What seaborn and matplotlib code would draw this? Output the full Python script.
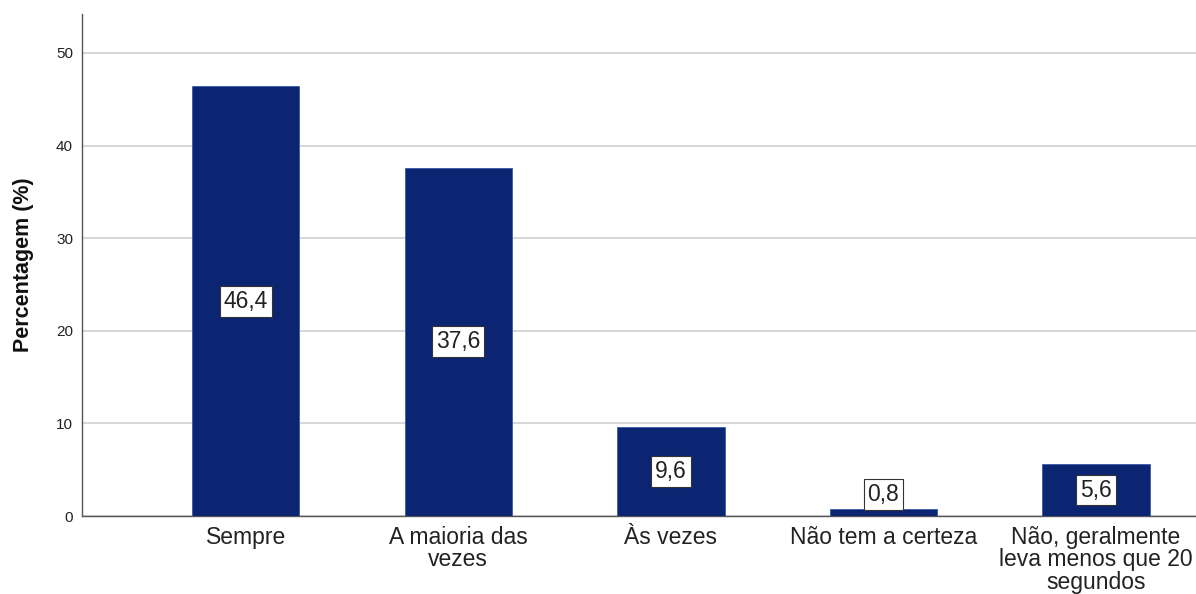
import matplotlib
matplotlib.use("Agg")
import matplotlib.pyplot as plt
import seaborn as sns
import pandas as pd

categories = [
    "Sempre",
    "A maioria das\nvezes",
    "Às vezes",
    "Não tem a certeza",
    "Não, geralmente\nleva menos que 20\nsegundos",
]
percent = [46.4, 37.6, 9.6, 0.8, 5.6]

data = pd.DataFrame({"categoria": categories, "percentagem": percent})

sns.set_theme(style="white")
plt.rcParams["font.family"] = ["Liberation Sans", "DejaVu Sans"]

fig = plt.figure(figsize=(11.96, 5.94), dpi=100)
ax = fig.add_axes([82 / 1196, 78 / 594, 1 - 82 / 1196, (516 - 14) / 594])

sns.barplot(
    data=data,
    x="categoria",
    y="percentagem",
    color="#0c2573",
    saturation=1,
    width=0.505,
    edgecolor="#3a5aa8",
    linewidth=0.6,
    ax=ax,
    zorder=3,
)

ax.set_ylim(0, 54.2)
ax.set_xlim(-0.77, 4.47)
ax.set_yticks(range(0, 51, 10))
ax.yaxis.grid(True, color="#cfcfcf", linewidth=1.2, zorder=0)
ax.set_axisbelow(True)
for s in ["top", "right"]:
    ax.spines[s].set_visible(False)
for s in ["left", "bottom"]:
    ax.spines[s].set_color("#555555")
    ax.spines[s].set_linewidth(1.0)

ax.tick_params(axis="y", length=0, labelsize=11, pad=6.5, labelcolor="#222222")
ax.tick_params(axis="x", length=0, labelsize=16.5, pad=7, labelcolor="#222222")
for t in ax.get_xticklabels():
    t.set_linespacing(0.97)

ax.set_xlabel("")
ax.set_ylabel("Percentagem (%)", fontsize=15.5, fontweight="bold", labelpad=16, color="#111111")

for i, v in enumerate(percent):
    ax.text(
        i,
        max(v / 2, 2.3),
        f"{v:.1f}".replace(".", ","),
        ha="center",
        va="center",
        fontsize=16.5,
        color="#222222",
        zorder=5,
        bbox=dict(boxstyle="square,pad=0.17", facecolor="white", edgecolor="#333333", linewidth=0.8),
    )

fig.savefig("out.png", dpi=100)
